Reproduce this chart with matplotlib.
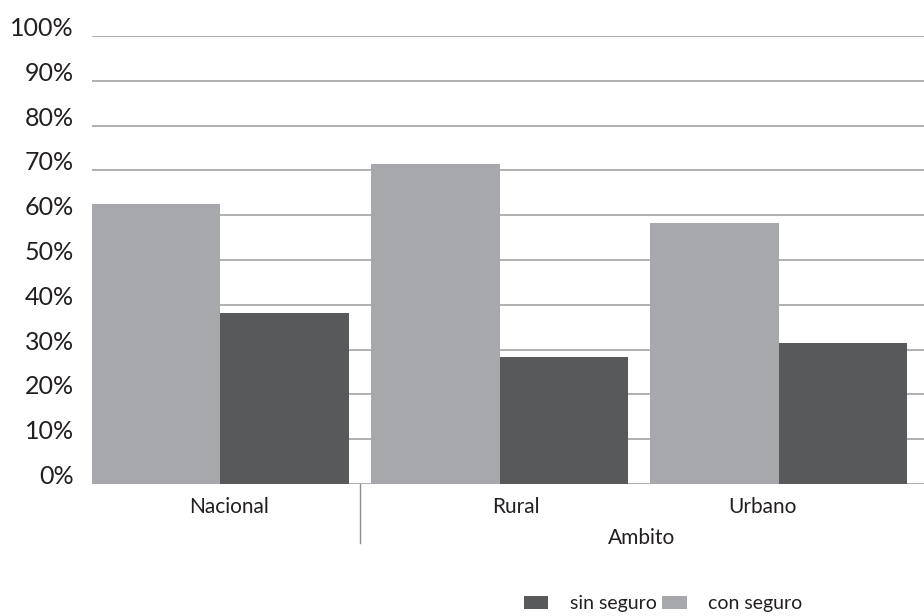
import matplotlib.pyplot as plt
import numpy as np
from matplotlib.ticker import PercentFormatter

# Datos por ámbito (porcentaje de población)
ambitos = ["Nacional", "Rural", "Urbano"]
con_seguro = [62.6, 71.5, 58.2]
sin_seguro = [38.1, 28.3, 31.5]

color_con = "#a7a8ab"
color_sin = "#58595b"
color_texto = "#231f20"

plt.rcParams['font.family'] = ['Lato', 'DejaVu Sans']

fig = plt.figure(figsize=(9.24, 6.16), dpi=100)
ax = fig.add_axes([92 / 924, 132 / 616, 832 / 924, 448 / 616])

x = np.arange(len(ambitos))
ancho = 0.46
b_con = ax.bar(x - ancho / 2, con_seguro, ancho, color=color_con, zorder=3, label="con seguro")
b_sin = ax.bar(x + ancho / 2, sin_seguro, ancho, color=color_sin, zorder=3, label="sin seguro")

ax.set_ylim(0, 100)
ax.set_xlim(-0.46, 2.52)
ax.set_yticks(np.arange(0, 101, 10))
ax.yaxis.set_major_formatter(PercentFormatter(decimals=0))
ax.yaxis.grid(True, color="#9a9a9a", linewidth=1.1, zorder=0)
ax.set_axisbelow(True)
for s in ax.spines.values():
    s.set_visible(False)
ax.tick_params(axis="y", length=0, pad=13, labelsize=18, labelcolor=color_texto)
for lab in ax.get_yticklabels():
    lab.set_verticalalignment("baseline")
ax.set_xticks([])

# Etiquetas de categorías y del eje
pos_etiquetas = [0.03, 1.06, 1.94]
for p, nombre in zip(pos_etiquetas, ambitos):
    ax.text(p, -5.2, nombre, ha="center", va="center", fontsize=15,
            color=color_texto, clip_on=False)
ax.text(1.51, -12.0, "Ambito", ha="center", va="center", fontsize=15,
        color=color_texto, clip_on=False)

# Separador entre grupos
ax.plot([0.5, 0.5], [0, -13.2], color="#8c8c8c", linewidth=1, clip_on=False)

fig.legend(handles=[b_sin, b_con], labels=["sin seguro", "con seguro"],
           loc="center left", bbox_to_anchor=(524 / 924, 1 - 604 / 616),
           ncol=2, frameon=False, fontsize=14, handlelength=1.25,
           handleheight=0.65, handletextpad=1.1, columnspacing=0.3,
           borderpad=0, borderaxespad=0, labelcolor=color_texto)

fig.savefig("out.png", dpi=100, facecolor="white")
